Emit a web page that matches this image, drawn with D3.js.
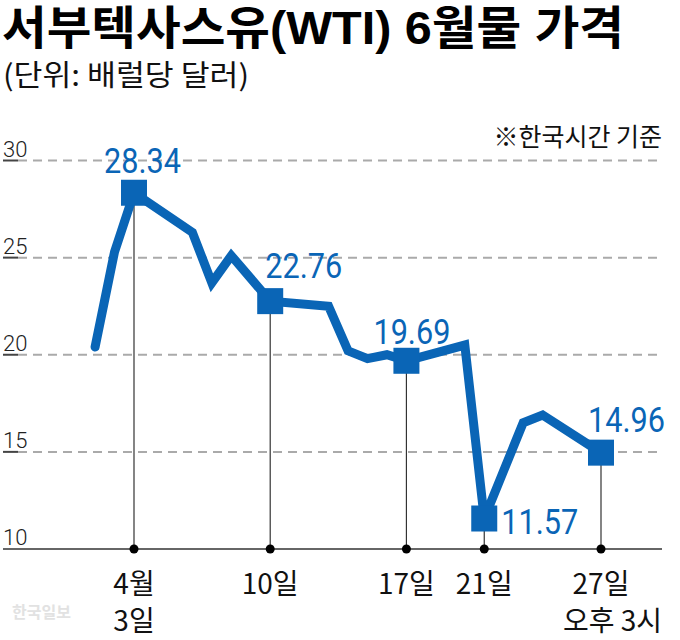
<!DOCTYPE html>
<html>
<head>
<meta charset="utf-8">
<script src="https://cdn.jsdelivr.net/npm/d3@7/dist/d3.min.js"></script>
<style>
  html, body { margin: 0; padding: 0; background: #fff; }
  svg { display: block; }
</style>
</head>
<body>
<svg id="chart" width="680" height="640"></svg>
<script>
// ---- data ----
const days   = [1, 2, 3, 6, 7, 8, 10, 13, 14, 15, 16, 17, 20, 21, 23, 24, 27];
const prices = [20.4, 25.3, 28.34, 26.3, 23.7, 25.1, 22.76, 22.5, 20.2, 19.8, 20.0, 19.69, 20.5, 11.57, 16.5, 16.9, 14.96];
const markedDays   = [3, 10, 17, 21, 27];
const markedPrices = [28.34, 22.76, 19.69, 11.57, 14.96];
const markedLabels = ["28.34", "22.76", "19.69", "11.57", "14.96"];
const xLabelLine1 = ["4월", "10일", "17일", "21일", "27일"];
const xLabelLine2 = ["3일", "", "", "", "오후 3시"];
const yTicks = [10, 15, 20, 25, 30];

const title = "서부텍사스유(WTI) 6월물 가격";
const subtitle = "(단위: 배럴당 달러)";
const note = "※한국시간 기준";
const credit = "한국일보";

// ---- style ----
const BLUE = "#0a65b6";
const KR = "'Noto Sans CJK KR', 'Noto Sans', sans-serif";
const TITLE_FONT = "'Liberation Sans', 'Noto Sans CJK KR', sans-serif";
const NUM = "Roboto, 'Liberation Sans', sans-serif";
// label offsets relative to marker (style only)
const labelOffsets = [[-30, -20], [-5, -23], [-33, -17], [17, 15], [-13, -21]];

const svg = d3.select("#chart");
const x = d3.scaleLinear().domain([3, 27]).range([134, 601]);
const y = d3.scaleLinear().domain([10, 30]).range([549, 160.5]);
const gridLeft = 3, gridRight = 662;

// title
svg.append("text").attr("x", 2).attr("y", 44)
  .attr("font-family", TITLE_FONT).attr("font-weight", 700).attr("font-size", 46)
  .attr("textLength", 622).attr("lengthAdjust", "spacingAndGlyphs")
  .attr("fill", "#000").text(title);
svg.append("text").attr("x", 3).attr("y", 86)
  .attr("font-family", KR).attr("font-weight", 400).attr("font-size", 29)
  .attr("textLength", 246).attr("lengthAdjust", "spacingAndGlyphs")
  .attr("fill", "#111").text(subtitle);
svg.append("text").attr("x", 662).attr("y", 146).attr("text-anchor", "end")
  .attr("font-family", KR).attr("font-size", 25).attr("fill", "#111").text(note);

// gridlines
const grid = svg.append("g");
yTicks.forEach(v => {
  const yy = y(v);
  if (v === 10) {
    grid.append("line").attr("x1", gridLeft).attr("x2", gridRight)
      .attr("y1", yy).attr("y2", yy).attr("stroke", "#333").attr("stroke-width", 1.5);
  } else {
    grid.append("line").attr("x1", 18).attr("x2", gridRight)
      .attr("y1", yy).attr("y2", yy).attr("stroke", "#aaa").attr("stroke-width", 2)
      .attr("stroke-dasharray", "9,6");
    grid.append("line").attr("x1", gridLeft).attr("x2", 18)
      .attr("y1", yy).attr("y2", yy).attr("stroke", "#444").attr("stroke-width", 2);
  }
  grid.append("text").attr("x", 3).attr("y", yy - 4)
    .attr("font-family", NUM).attr("font-weight", 300).attr("font-size", 22)
    .attr("fill", "#222").text(v);
});

// drop lines + dots
const drops = svg.append("g");
markedDays.forEach((d, i) => {
  drops.append("line").attr("x1", x(d)).attr("x2", x(d))
    .attr("y1", y(markedPrices[i])).attr("y2", y(10))
    .attr("stroke", "#333").attr("stroke-width", 1.2);
  drops.append("circle").attr("cx", x(d)).attr("cy", y(10)).attr("r", 4.5).attr("fill", "#000");
});

// line
const line = d3.line().x((d, i) => x(days[i])).y((d, i) => y(prices[i]));
svg.append("path").datum(prices).attr("d", line)
  .attr("fill", "none").attr("stroke", BLUE).attr("stroke-width", 9)
  .attr("stroke-linejoin", "miter").attr("stroke-linecap", "round");

// markers
const S = 26;
markedDays.forEach((d, i) => {
  svg.append("rect").attr("x", x(d) - S / 2).attr("y", y(markedPrices[i]) - S / 2)
    .attr("width", S).attr("height", S).attr("fill", BLUE);
  const off = labelOffsets[i];
  const ty = off[1] < 0 ? y(markedPrices[i]) - S / 2 + off[1] + 13 : y(markedPrices[i]) + off[1];
  svg.append("text").attr("x", x(d) + off[0]).attr("y", ty)
    .attr("font-family", NUM).attr("font-size", 35).attr("fill", BLUE)
    .attr("textLength", 77).attr("lengthAdjust", "spacingAndGlyphs")
    .text(markedLabels[i]);
});

// x labels
markedDays.forEach((d, i) => {
  svg.append("text").attr("x", x(d)).attr("y", 594).attr("text-anchor", "middle")
    .attr("font-family", KR).attr("font-size", 28).attr("fill", "#111").text(xLabelLine1[i]);
  if (xLabelLine2[i]) {
    const t = svg.append("text").attr("y", 631)
      .attr("font-family", KR).attr("font-size", 28).attr("fill", "#111").text(xLabelLine2[i]);
    if (i === markedDays.length - 1) t.attr("x", 662).attr("text-anchor", "end");
    else t.attr("x", x(d)).attr("text-anchor", "middle");
  }
});

// credit watermark
svg.append("text").attr("x", 12).attr("y", 618)
  .attr("font-family", KR).attr("font-weight", 700).attr("font-size", 16)
  .attr("fill", "#e2e2e2").text(credit);
</script>
</body>
</html>
